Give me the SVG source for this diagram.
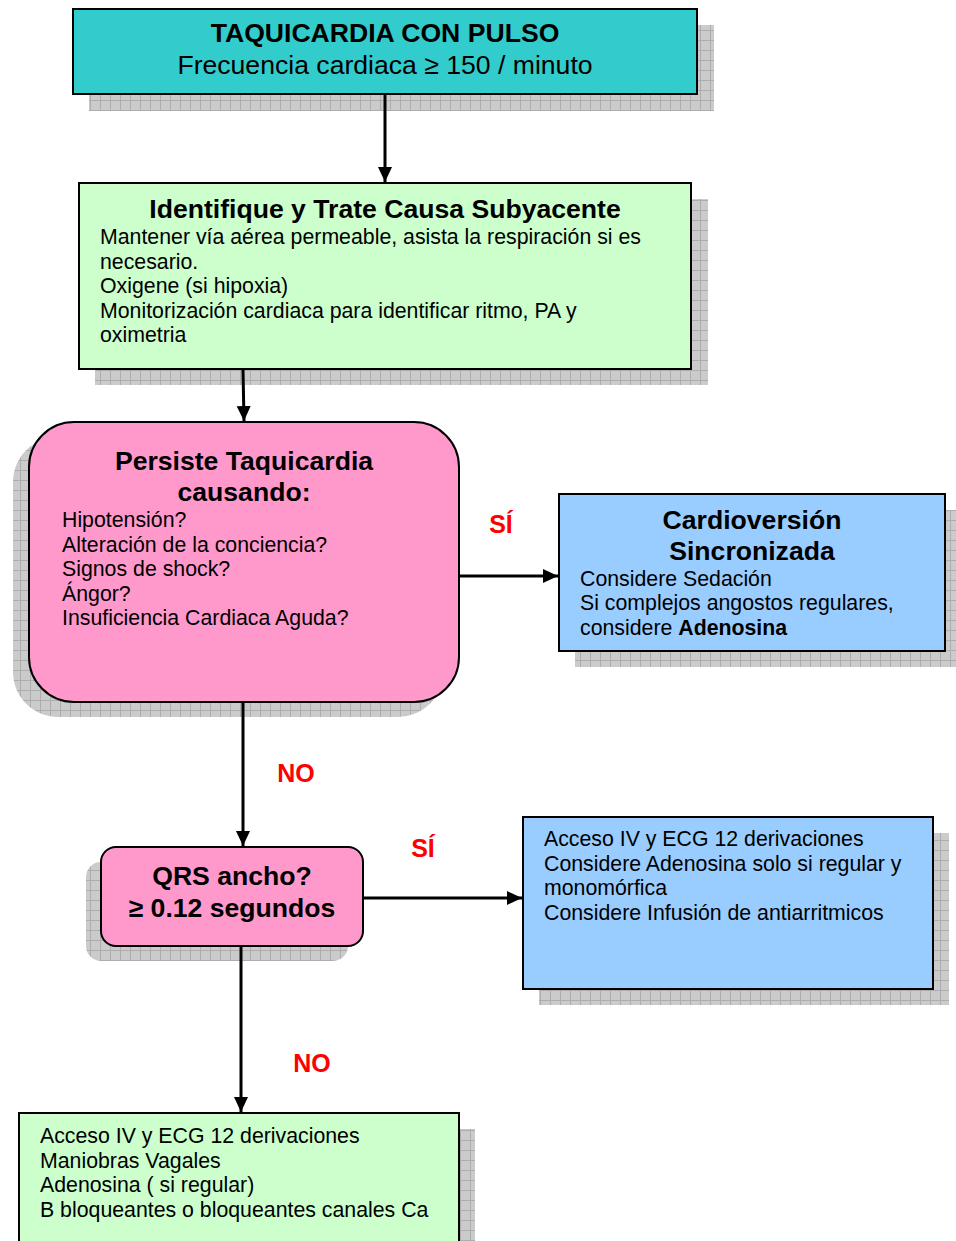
<svg xmlns="http://www.w3.org/2000/svg" width="956" height="1241" viewBox="0 0 956 1241">
<style>
text{font-family:"Liberation Sans",Arial,sans-serif;fill:#000}
.t{font-size:26.6px;font-weight:bold}
.s{font-size:26.6px}
.b{font-size:21.3px}
.lbl{font-size:25px;font-weight:bold;fill:#ff0000}
.box{stroke:#000;stroke-width:2}
.sh{fill:url(#grid)}
.c{fill:none;stroke:#000;stroke-width:3;marker-end:url(#arr)}
</style>
<defs>
<pattern id="grid" width="10" height="10" patternUnits="userSpaceOnUse">
<rect width="10" height="10" fill="#cbcbcb"/>
<path d="M0 0.5H10M0.5 0V10" stroke="#adadad" stroke-width="1"/>
</pattern>
<marker id="arr" markerUnits="userSpaceOnUse" markerWidth="15" markerHeight="15" viewBox="0 0 15 15" refX="15" refY="7.5" orient="auto">
<path d="M0 0.5L15 7.5L0 14.5Z" fill="#000"/>
</marker>
</defs>
<rect width="956" height="1241" fill="#fff"/>

<g id="n1">
<rect class="sh" x="89" y="25" width="625" height="86"/>
<rect class="box" x="73" y="9" width="624" height="85" fill="#33cccc"/>
<text class="t" x="385" y="42" text-anchor="middle">TAQUICARDIA CON PULSO</text>
<text class="s" x="385" y="74" text-anchor="middle">Frecuencia cardiaca ≥ 150 / minuto</text>
</g>

<g id="n2">
<rect class="sh" x="95" y="199" width="613" height="186"/>
<rect class="box" x="79" y="183" width="612" height="186" fill="#ccffcc"/>
<text class="t" x="385" y="218" text-anchor="middle">Identifique y Trate Causa Subyacente</text>
<text class="b" x="100" y="244">Mantener vía aérea permeable, asista la respiración si es</text>
<text class="b" x="100" y="268.5">necesario.</text>
<text class="b" x="100" y="293">Oxigene (si hipoxia)</text>
<text class="b" x="100" y="317.5">Monitorización cardiaca para identificar ritmo, PA y</text>
<text class="b" x="100" y="342">oximetria</text>
</g>

<g id="n3">
<rect class="sh" x="13" y="437" width="430" height="280" rx="45"/>
<rect class="box" x="29" y="422" width="430" height="280" rx="45" fill="#ff99cc"/>
<text class="t" x="244" y="470" text-anchor="middle">Persiste Taquicardia</text>
<text class="t" x="244" y="501" text-anchor="middle">causando:</text>
<text class="b" x="62" y="527">Hipotensión?</text>
<text class="b" x="62" y="551.5">Alteración de la conciencia?</text>
<text class="b" x="62" y="576">Signos de shock?</text>
<text class="b" x="62" y="600.5">Ángor?</text>
<text class="b" x="62" y="625">Insuficiencia Cardiaca Aguda?</text>
</g>

<g id="n4">
<rect class="sh" x="575" y="510" width="386" height="157"/>
<rect class="box" x="559" y="494" width="386" height="157" fill="#99ccff"/>
<text class="t" x="752" y="529" text-anchor="middle">Cardioversión</text>
<text class="t" x="752" y="560" text-anchor="middle">Sincronizada</text>
<text class="b" x="580" y="585.5">Considere Sedación</text>
<text class="b" x="580" y="610">Si complejos angostos regulares,</text>
<text class="b" x="580" y="634.5">considere <tspan font-weight="bold">Adenosina</tspan></text>
</g>

<g id="n5">
<rect class="sh" x="86" y="862" width="262" height="99" rx="15"/>
<rect class="box" x="101" y="847" width="262" height="99" rx="15" fill="#ff99cc"/>
<text class="t" x="232" y="885" text-anchor="middle">QRS ancho?</text>
<text class="t" x="232" y="917" text-anchor="middle">≥ 0.12 segundos</text>
</g>

<g id="n6">
<rect class="sh" x="539" y="833" width="410" height="172"/>
<rect class="box" x="523" y="817" width="410" height="172" fill="#99ccff"/>
<text class="b" x="544" y="846">Acceso IV y ECG 12 derivaciones</text>
<text class="b" x="544" y="870.5">Considere Adenosina solo si regular y</text>
<text class="b" x="544" y="895">monomórfica</text>
<text class="b" x="544" y="919.5">Considere Infusión de antiarritmicos</text>
</g>

<g id="n7">
<rect class="sh" x="35" y="1129" width="440" height="160"/>
<rect class="box" x="19" y="1113" width="440" height="160" fill="#ccffcc"/>
<text class="b" x="40" y="1143">Acceso IV y ECG 12 derivaciones</text>
<text class="b" x="40" y="1167.5">Maniobras Vagales</text>
<text class="b" x="40" y="1192">Adenosina ( si regular)</text>
<text class="b" x="40" y="1216.5">B bloqueantes o bloqueantes canales Ca</text>
</g>

<g id="connectors">
<line class="c" x1="385" y1="95" x2="385" y2="182"/>
<line class="c" x1="243" y1="370" x2="244" y2="421"/>
<line class="c" x1="460" y1="576" x2="558" y2="576"/>
<line class="c" x1="243" y1="703" x2="243" y2="846"/>
<line class="c" x1="364" y1="898" x2="522" y2="898"/>
<line class="c" x1="241" y1="947" x2="241" y2="1112"/>
</g>

<g id="labels">
<text class="lbl" x="501" y="533" text-anchor="middle">SÍ</text>
<text class="lbl" x="296" y="782" text-anchor="middle">NO</text>
<text class="lbl" x="423" y="857" text-anchor="middle">SÍ</text>
<text class="lbl" x="312" y="1072" text-anchor="middle">NO</text>
</g>
</svg>
